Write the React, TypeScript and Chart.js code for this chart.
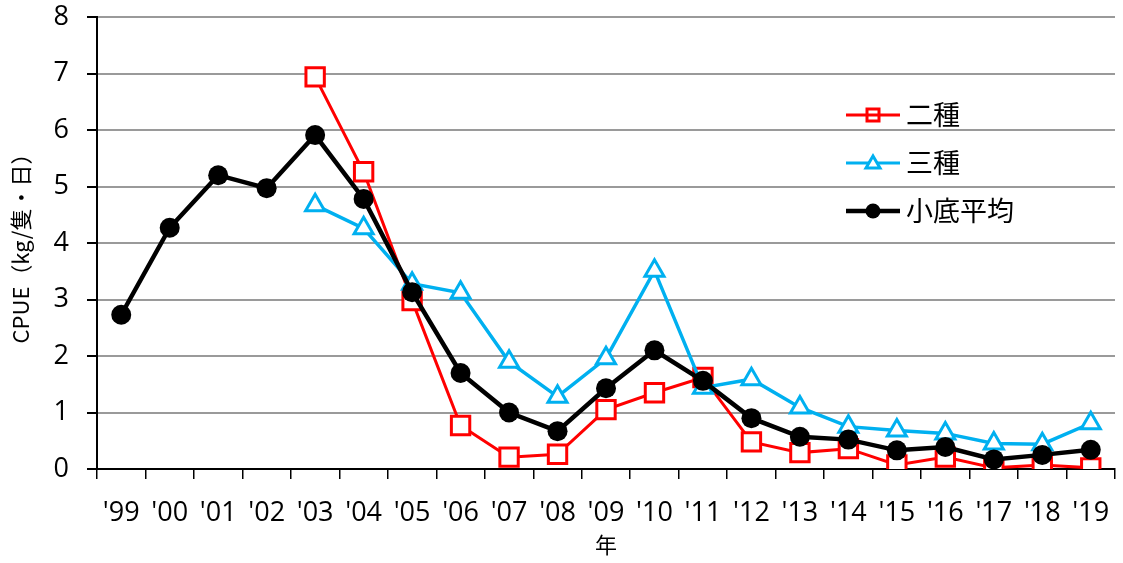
import React, { useEffect, useRef } from 'react';
import { Chart, registerables } from 'chart.js';

Chart.register(...registerables);

const categories = ["'99", "'00", "'01", "'02", "'03", "'04", "'05", "'06", "'07", "'08", "'09", "'10", "'11", "'12", "'13", "'14", "'15", "'16", "'17", "'18", "'19"];

const nishuLabel = '二種';
const sanshuLabel = '三種';
const averageLabel = '小底平均';

const nishuValues = [null, null, null, null, 6.94, 5.26, 2.98, 0.77, 0.21, 0.26, 1.05, 1.35, 1.62, 0.48, 0.29, 0.36, 0.07, 0.21, 0.02, 0.07, 0.02];
const sanshuValues = [null, null, null, null, 4.67, 4.26, 3.28, 3.12, 1.90, 1.28, 1.96, 3.51, 1.44, 1.59, 1.09, 0.75, 0.68, 0.63, 0.45, 0.44, 0.81];
const averageValues = [2.73, 4.27, 5.20, 4.97, 5.91, 4.78, 3.13, 1.70, 1.00, 0.67, 1.43, 2.10, 1.56, 0.90, 0.57, 0.52, 0.33, 0.39, 0.17, 0.25, 0.34];

const yMin = 0;
const yMax = 8;
const yStep = 1;

const yTitle = 'CPUE（kg/隻・日）';
const xTitle = '年';

const RED = '#FF0000';
const BLUE = '#00B0F0';
const BLACK = '#000000';
const LATIN = '"Open Sans", "Noto Sans", sans-serif';
const CJK = '"Noto Sans CJK JP", "Noto Sans", sans-serif';

const legendPlugin = {
  id: 'customLegend',
  afterDraw(chart: any) {
    const ctx = chart.ctx as CanvasRenderingContext2D;
    const area = chart.chartArea;
    const x0 = area.right - 269;
    const x1 = x0 + 54;
    const xm = (x0 + x1) / 2;
    const entries = [
      { label: nishuLabel, color: RED, width: 3, kind: 'rect' },
      { label: sanshuLabel, color: BLUE, width: 3, kind: 'triangle' },
      { label: averageLabel, color: BLACK, width: 4.5, kind: 'circle' },
    ];
    ctx.save();
    entries.forEach((e, i) => {
      const y = area.top + 98 + i * 48;
      ctx.strokeStyle = e.color;
      ctx.lineWidth = e.width;
      ctx.beginPath();
      ctx.moveTo(x0, y);
      ctx.lineTo(x1, y);
      ctx.stroke();
      ctx.lineWidth = 3;
      if (e.kind === 'rect') {
        ctx.fillStyle = '#fff';
        ctx.beginPath();
        ctx.rect(xm - 6, y - 6, 12, 12);
        ctx.fill();
        ctx.stroke();
        ctx.beginPath();
        ctx.moveTo(xm - 6, y);
        ctx.lineTo(xm + 6, y);
        ctx.stroke();
      } else if (e.kind === 'triangle') {
        ctx.fillStyle = '#fff';
        ctx.beginPath();
        ctx.moveTo(xm, y - 7);
        ctx.lineTo(xm + 7, y + 5);
        ctx.lineTo(xm - 7, y + 5);
        ctx.closePath();
        ctx.fill();
        ctx.stroke();
      } else {
        ctx.fillStyle = BLACK;
        ctx.beginPath();
        ctx.arc(xm, y, 7.5, 0, Math.PI * 2);
        ctx.fill();
      }
      ctx.fillStyle = '#000';
      ctx.font = `27px ${CJK}`;
      ctx.textAlign = 'left';
      ctx.textBaseline = 'middle';
      ctx.fillText(e.label, x1 + 6, y);
    });
    ctx.restore();
  },
};

export default function App() {
  const canvasRef = useRef<HTMLCanvasElement | null>(null);

  useEffect(() => {
    document.body.style.margin = '0';
    const canvas = canvasRef.current;
    if (!canvas) return;
    const chart = new Chart(canvas, {
      type: 'line',
      data: {
        labels: categories,
        datasets: [
          {
            label: nishuLabel,
            data: nishuValues,
            borderColor: RED,
            borderWidth: 3,
            pointStyle: 'rect',
            pointRadius: 13,
            pointBorderWidth: 3,
            pointBackgroundColor: '#ffffff',
            pointBorderColor: RED,
            spanGaps: false,
            order: 3,
          },
          {
            label: sanshuLabel,
            data: sanshuValues,
            borderColor: BLUE,
            borderWidth: 3.5,
            pointStyle: 'triangle',
            pointRadius: 11,
            pointBorderWidth: 3,
            pointBackgroundColor: '#ffffff',
            pointBorderColor: BLUE,
            order: 2,
          },
          {
            label: averageLabel,
            data: averageValues,
            borderColor: BLACK,
            borderWidth: 4.5,
            pointStyle: 'circle',
            pointRadius: 10,
            pointBorderWidth: 0,
            pointBackgroundColor: BLACK,
            pointBorderColor: BLACK,
            order: 1,
          },
        ],
      },
      options: {
        responsive: false,
        animation: false,
        devicePixelRatio: 1,
        layout: { autoPadding: false, padding: { left: 0, right: 8, top: 17, bottom: 0 } },
        plugins: {
          legend: { display: false },
          tooltip: { enabled: false },
        },
        elements: { line: { tension: 0 } },
        scales: {
          x: {
            type: 'category',
            offset: true,
            grid: {
              display: true,
              drawOnChartArea: false,
              drawTicks: true,
              tickLength: 10,
              offset: true,
              color: '#000',
              tickColor: '#000',
              lineWidth: 1.5,
            },
            border: { display: true, color: '#000', width: 2 },
            ticks: {
              color: '#000',
              font: { family: LATIN, size: 27 },
              padding: 18,
              maxRotation: 0,
              autoSkip: false,
            },
            title: {
              display: true,
              text: xTitle,
              color: '#000',
              font: { family: CJK, size: 22 },
              padding: { top: 0, bottom: 5 },
            },
            afterFit(scale: any) {
              scale.height = 94;
              scale.paddingLeft = 0;
              scale.paddingRight = 0;
            },
          },
          y: {
            min: yMin,
            max: yMax,
            ticks: {
              stepSize: yStep,
              color: '#000',
              font: { family: LATIN, size: 27 },
              padding: 18,
            },
            grid: {
              color: '#9a9a9a',
              lineWidth: 2,
              tickLength: 10,
              tickColor: '#000',
              drawTicks: true,
            },
            border: { display: true, color: '#000', width: 2 },
            title: {
              display: true,
              text: yTitle,
              color: '#000',
              font: { family: CJK, size: 22 },
              padding: { top: 7, bottom: 0 },
            },
            afterFit(scale: any) {
              scale.width = 97;
              scale.paddingTop = 0;
              scale.paddingBottom = 0;
            },
          },
        },
      },
      plugins: [legendPlugin],
    });
    return () => chart.destroy();
  }, []);

  return (
    <div style={{ width: 1123, height: 563, position: 'relative' }}>
      <canvas ref={canvasRef} width={1123} height={563} style={{ display: 'block' }} />
    </div>
  );
}
